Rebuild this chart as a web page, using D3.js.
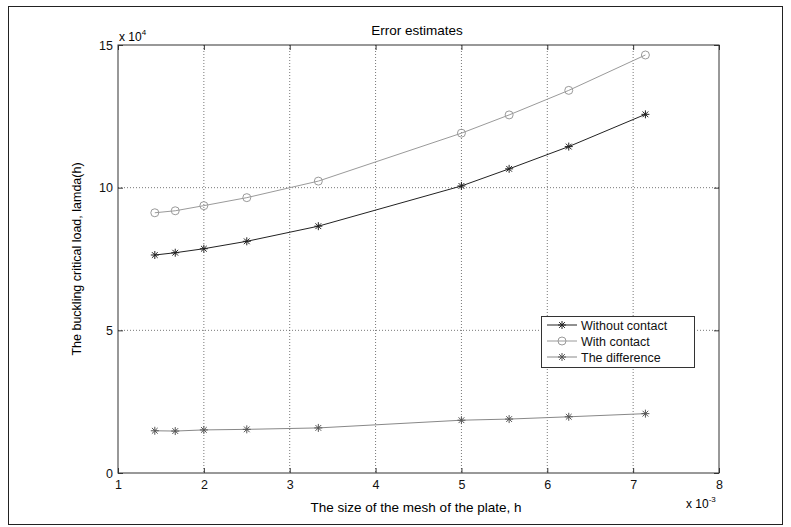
<!DOCTYPE html>
<html><head><meta charset="utf-8">
<script src="https://cdn.jsdelivr.net/npm/d3@7"></script>
<style>body{margin:0;background:#fff}svg{display:block;font-family:"Liberation Sans",Arial,sans-serif}</style>
</head><body><svg id="c" width="791" height="527"></svg>
<script>
const hValues = [1.4286, 1.6667, 2.0, 2.5, 3.3333, 5.0, 5.5556, 6.25, 7.1429];
const withoutContact = [7.64, 7.72, 7.86, 8.12, 8.65, 10.06, 10.66, 11.44, 12.57];
const withContact = [9.12, 9.19, 9.37, 9.65, 10.23, 11.91, 12.55, 13.41, 14.65];
const difference = [1.48, 1.47, 1.51, 1.53, 1.58, 1.85, 1.89, 1.97, 2.08];
const xTicks = [1, 2, 3, 4, 5, 6, 7, 8];
const yTicks = [0, 5, 10, 15];
const legendLabels = ["Without contact", "With contact", "The difference"];

const svg = d3.select("#c");
const L = 118, R = 719, T = 45, B = 473;
const x = d3.scaleLinear().domain([1, 8]).range([L, R]);
const y = d3.scaleLinear().domain([0, 15]).range([B, T]);

// figure frame
svg.append("rect").attr("x", 8.5).attr("y", 6.5).attr("width", 774).attr("height", 518)
  .attr("fill", "none").attr("stroke", "#222").attr("stroke-width", 1);

// grid
const grid = svg.append("g").attr("stroke", "#555").attr("stroke-width", 0.8).attr("stroke-dasharray", "1,2");
xTicks.slice(1, -1).forEach(t => grid.append("line").attr("x1", x(t)).attr("x2", x(t)).attr("y1", T).attr("y2", B));
yTicks.slice(1, -1).forEach(t => grid.append("line").attr("x1", L).attr("x2", R).attr("y1", y(t)).attr("y2", y(t)));

// axes (ticks inward, matlab style)
const ax = d3.axisBottom(x).tickValues(xTicks).tickSize(-5).tickPadding(7).tickFormat(d3.format("d"));
const ay = d3.axisLeft(y).tickValues(yTicks).tickSize(-5).tickPadding(5).tickFormat(d3.format("d"));
const axT = d3.axisTop(x).tickValues(xTicks).tickSize(-5).tickFormat("");
const ayR = d3.axisRight(y).tickValues(yTicks).tickSize(-5).tickFormat("");
function style(g){ g.select(".domain").remove(); g.selectAll("line").attr("stroke", "#333");
  g.selectAll("text").attr("fill", "#111").style("font-size", "12.5px").style("font-family", '"Liberation Sans",Arial,sans-serif'); }
svg.append("g").attr("transform", `translate(0,${B})`).call(ax).call(style);
svg.append("g").attr("transform", `translate(${L},0)`).call(ay).call(style);
svg.append("g").attr("transform", `translate(0,${T})`).call(axT).call(style);
svg.append("g").attr("transform", `translate(${R},0)`).call(ayR).call(style);
svg.append("rect").attr("x", L).attr("y", T).attr("width", R - L).attr("height", B - T)
  .attr("fill", "none").attr("stroke", "#333").attr("stroke-width", 1);

// series
const line = d3.line().x(d => x(d[0])).y(d => y(d[1]));
function star(g, cx, cy, color){
  const s = 4;
  const p = `M${cx-s},${cy}L${cx+s},${cy}M${cx},${cy-s}L${cx},${cy+s}M${cx-s*0.72},${cy-s*0.72}L${cx+s*0.72},${cy+s*0.72}M${cx-s*0.72},${cy+s*0.72}L${cx+s*0.72},${cy-s*0.72}`;
  g.append("path").attr("d", p).attr("stroke", color).attr("stroke-width", 1).attr("fill", "none");
}
function circ(g, cx, cy, color){
  g.append("circle").attr("cx", cx).attr("cy", cy).attr("r", 4).attr("fill", "none").attr("stroke", color).attr("stroke-width", 1);
}
const series = [
  {vals: withoutContact, line: "#222", mk: "#222", marker: star},
  {vals: withContact, line: "#9a9a9a", mk: "#9a9a9a", marker: circ},
  {vals: difference, line: "#888", mk: "#555", marker: star}
];
series.forEach(s => {
  const pts = hValues.map((h, i) => [h, s.vals[i]]);
  svg.append("path").attr("d", line(pts)).attr("fill", "none").attr("stroke", s.line).attr("stroke-width", 1);
  const g = svg.append("g");
  pts.forEach(p => s.marker(g, x(p[0]), y(p[1]), s.mk));
});

// legend
const lg = svg.append("g");
const LX = 541, LY = 316;
lg.append("rect").attr("x", LX + 0.5).attr("y", LY + 0.5).attr("width", 153).attr("height", 51)
  .attr("fill", "#fff").attr("stroke", "#333");
legendLabels.forEach((t, i) => {
  const ly = LY + 9 + i * 16;
  const s = series[i];
  lg.append("line").attr("x1", LX + 6).attr("x2", LX + 36).attr("y1", ly).attr("y2", ly).attr("stroke", s.line);
  s.marker(lg, LX + 21, ly, s.mk);
  lg.append("text").attr("x", LX + 40).attr("y", ly + 4.5).text(t).style("font-size", "12.5px").attr("fill", "#111");
});

// labels
svg.append("text").attr("x", 417).attr("y", 35).attr("text-anchor", "middle").style("font-size", "13.5px").text("Error estimates");
svg.append("text").attr("x", 416).attr("y", 512).attr("text-anchor", "middle").style("font-size", "13.5px").text("The size of the mesh of the plate, h");
svg.append("text").attr("transform", "translate(81,259) rotate(-90)").attr("text-anchor", "middle").style("font-size", "12.5px").text("The buckling critical load, lamda(h)");
const e1 = svg.append("text").attr("x", 119).attr("y", 41).style("font-size", "12px");
e1.append("tspan").text("x 10");
e1.append("tspan").attr("dy", -6).style("font-size", "8px").text("4");
const e2 = svg.append("text").attr("x", 686).attr("y", 508).style("font-size", "12px");
e2.append("tspan").text("x 10");
e2.append("tspan").attr("dy", -6).style("font-size", "8px").text("-3");
</script></body></html>
